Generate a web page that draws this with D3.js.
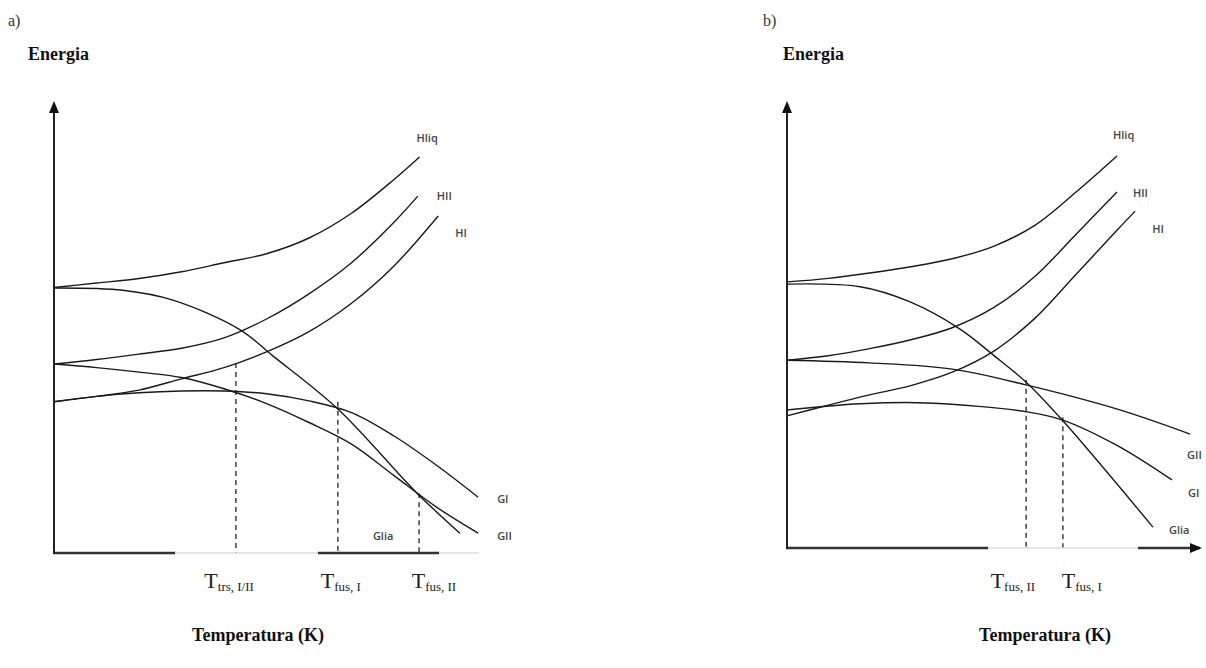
<!DOCTYPE html>
<html>
<head>
<meta charset="utf-8">
<script src="https://cdn.jsdelivr.net/npm/d3@7"></script>
<style>
  body { margin: 0; background: #fff; }
  svg { display: block; }
</style>
</head>
<body>
<script>
// Curve data, temperature (T) and energy (E) in arbitrary units 0-100

// panel a)
const aT_Hliq = [0, 10, 20, 30, 40, 50, 60, 70, 80, 86];
const aE_Hliq = [59, 60, 61, 62.5, 64.5, 66.5, 70, 75.5, 83, 88];
const aT_HII = [0, 10, 20, 30, 40, 50, 60, 70, 80, 85.6];
const aE_HII = [42, 43, 44.2, 45.5, 47.8, 52, 57.6, 64.5, 73.5, 79.3];
const aT_HI = [0, 10, 20, 30, 40, 50, 60, 70, 80, 90.4];
const aE_HI = [33.6, 34.8, 36.2, 38.7, 41.2, 44.7, 49.2, 55.5, 63.8, 74.9];
const aT_Glia = [0, 16.2, 28, 43.8, 51.5, 66.8, 85.4, 95.5];
const aE_Glia = [58.9, 58.4, 56.2, 49.6, 43.8, 32, 13.3, 4.4];
const aT_GI = [0, 10, 20, 30, 40, 50, 60, 70, 80, 90, 99.8];
const aE_GI = [33.6, 34.8, 35.6, 36, 36, 35.4, 33.8, 31.2, 26, 19.5, 12.4];
const aT_GII = [0, 10, 20, 30, 40, 50, 60, 70, 80, 90, 99.8];
const aE_GII = [42, 41.2, 40.2, 39, 36.5, 33.2, 29, 24.2, 17.2, 10.2, 4.4];

// dashed guide lines: temperature and top energy
const aGuideT = [42.8, 66.8, 85.9];
const aGuideE = [42.2, 33.6, 13.3];
const aTickT = [41.2, 67.5, 89.4];
const aTickMain = ['T', 'T', 'T'];
const aTickSub = ['trs, I/II', 'fus, I', 'fus, II'];

// panel b)
const bT_Hliq = [0, 10, 20, 30, 40, 50, 60, 70, 79.9];
const bE_Hliq = [59.8, 60.6, 61.8, 63.2, 65, 67.8, 72.5, 80, 88.1];
const bT_HII = [0, 10, 20, 30, 40, 50, 60, 70, 79.9];
const bE_HII = [42.2, 43.2, 44.8, 46.8, 49.5, 54, 61, 70.5, 80];
const bT_HI = [0, 10, 20, 30, 40, 50, 60, 70, 80, 84.3];
const bE_HI = [29.7, 32.1, 34.4, 36.5, 39.5, 44.2, 51.6, 61.5, 71.5, 75.7];
const bT_Glia = [0, 17.7, 29.8, 41.9, 49.9, 58.1, 66.6, 88.6];
const bE_Glia = [59.3, 58.7, 55.3, 49.2, 43.4, 37.1, 28.8, 4.7];
const bT_GII = [0, 20, 40, 58.1, 80, 97.6];
const bE_GII = [42.2, 41.6, 40.2, 36.6, 31.2, 25.6];
const bT_GI = [0, 17.7, 33.9, 58.1, 66.6, 80, 93.2];
const bE_GI = [31, 32.4, 32.6, 30.6, 28.8, 23, 15.3];

const bGuideT = [57.9, 66.8];
const bGuideE = [37.8, 29.4];
const bTickT = [54.7, 71.4];
const bTickMain = ['T', 'T'];
const bTickSub = ['fus, II', 'fus, I'];

// axis: T breakpoints where the line alternates dark/light
const aAxisBreaks = [0, 28.5, 62.1, 90.6, 100];
const bAxisBreaks = [0, 48.7, 85, 100];

const svg = d3.select('body').append('svg')
  .attr('width', 1206)
  .attr('height', 668);

const serif = '"Liberation Serif", "DejaVu Serif", serif';
const sans = '"Open Sans", "DejaVu Sans", sans-serif';

function zip(T, E) {
  return T.map((t, i) => [t, E[i]]);
}

function panel(cfg) {
  const x = d3.scaleLinear().domain([0, 100]).range(cfg.xRange);
  const y = d3.scaleLinear().domain([0, 100]).range(cfg.yRange);
  const g = svg.append('g');

  const line = d3.line()
    .x((d) => x(d[0]))
    .y((d) => y(d[1]))
    .curve(d3.curveCatmullRom.alpha(0.5));

  // dashed guides
  g.append('g')
    .selectAll('line')
    .data(cfg.guideT)
    .join('line')
    .attr('x1', (d) => x(d))
    .attr('x2', (d) => x(d))
    .attr('y1', (d, i) => y(cfg.guideE[i]))
    .attr('y2', y(0))
    .attr('stroke', '#333')
    .attr('stroke-width', 1.4)
    .attr('stroke-dasharray', '5,4');

  // curves
  g.append('g')
    .attr('fill', 'none')
    .attr('stroke', '#1a1a1a')
    .attr('stroke-width', 1.4)
    .selectAll('path')
    .data(cfg.curves)
    .join('path')
    .attr('d', (d) => line(d.pts));

  // curve labels next to the line ends
  g.append('g')
    .attr('font-family', sans)
    .attr('font-size', 11)
    .attr('font-weight', 600)
    .attr('fill', '#444')
    .selectAll('text')
    .data(cfg.curves)
    .join('text')
    .attr('x', (d) => x(d.pts[d.pts.length - 1][0]) + d.off[0])
    .attr('y', (d) => y(d.pts[d.pts.length - 1][1]) + d.off[1])
    .text((d) => d.name);

  // x axis segments
  const segs = d3.pairs(cfg.axisBreaks);
  g.append('g')
    .selectAll('line')
    .data(segs)
    .join('line')
    .attr('x1', (d) => x(d[0]) - (d[0] === 0 ? 1 : 0))
    .attr('x2', (d) => x(d[1]))
    .attr('y1', y(0))
    .attr('y2', y(0))
    .attr('stroke', (d, i) => (i % 2 === 0 ? '#333' : '#ddd'))
    .attr('stroke-width', (d, i) => (i % 2 === 0 ? 2.5 : 1.5));

  // y axis
  g.append('line')
    .attr('x1', x(0))
    .attr('x2', x(0))
    .attr('y1', y(0) + 1)
    .attr('y2', y(100) + 8)
    .attr('stroke', '#222')
    .attr('stroke-width', 2);
  g.append('path')
    .attr('d', `M${x(0) - 5},${y(100) + 10}L${x(0)},${y(100) - 2}L${x(0) + 5},${y(100) + 10}Z`)
    .attr('fill', '#111');

  if (cfg.xArrow) {
    g.append('path')
      .attr('d', `M${x(100) - 10},${y(0) - 5}L${x(100) + 2},${y(0)}L${x(100) - 10},${y(0) + 5}Z`)
      .attr('fill', '#111');
  }

  // tick labels
  const ticks = g.append('g')
    .attr('font-family', serif)
    .attr('fill', '#222')
    .selectAll('text')
    .data(cfg.tickT)
    .join('text')
    .attr('x', (d) => x(d))
    .attr('y', 588)
    .attr('text-anchor', 'middle');
  ticks.append('tspan')
    .attr('font-size', 22)
    .text((d, i) => cfg.tickMain[i]);
  ticks.append('tspan')
    .attr('font-size', 13)
    .attr('dy', 3)
    .text((d, i) => cfg.tickSub[i]);

  // titles
  g.append('text')
    .attr('x', cfg.letterX)
    .attr('y', 26)
    .attr('font-family', serif)
    .attr('font-size', 16)
    .attr('fill', '#333')
    .text(cfg.letter);
  g.append('text')
    .attr('x', cfg.letterX + 20)
    .attr('y', 60)
    .attr('font-family', serif)
    .attr('font-size', 18)
    .attr('font-weight', 'bold')
    .attr('fill', '#111')
    .text('Energia');
  g.append('text')
    .attr('x', cfg.titleX)
    .attr('y', 641)
    .attr('text-anchor', 'middle')
    .attr('font-family', serif)
    .attr('font-size', 18)
    .attr('font-weight', 'bold')
    .attr('fill', '#111')
    .text('Temperatura (K)');
}

panel({
  xRange: [54, 479],
  yRange: [553, 103],
  letter: 'a)',
  letterX: 8,
  titleX: 258,
  xArrow: false,
  axisBreaks: aAxisBreaks,
  guideT: aGuideT,
  guideE: aGuideE,
  tickT: aTickT,
  tickMain: aTickMain,
  tickSub: aTickSub,
  curves: [
    { name: 'Hliq', pts: zip(aT_Hliq, aE_Hliq), off: [-3, -15] },
    { name: 'HII', pts: zip(aT_HII, aE_HII), off: [19, 4] },
    { name: 'HI', pts: zip(aT_HI, aE_HI), off: [17, 21] },
    { name: 'Glia', pts: zip(aT_Glia, aE_Glia), off: [-87, 7] },
    { name: 'GI', pts: zip(aT_GI, aE_GI), off: [19, 6] },
    { name: 'GII', pts: zip(aT_GII, aE_GII), off: [19, 7] },
  ],
});

panel({
  xRange: [787, 1200],
  yRange: [548, 103],
  letter: 'b)',
  letterX: 763,
  titleX: 1045,
  xArrow: true,
  axisBreaks: bAxisBreaks,
  guideT: bGuideT,
  guideE: bGuideE,
  tickT: bTickT,
  tickMain: bTickMain,
  tickSub: bTickSub,
  curves: [
    { name: 'Hliq', pts: zip(bT_Hliq, bE_Hliq), off: [-4, -17] },
    { name: 'HII', pts: zip(bT_HII, bE_HII), off: [16, 5] },
    { name: 'HI', pts: zip(bT_HI, bE_HI), off: [17, 22] },
    { name: 'Glia', pts: zip(bT_Glia, bE_Glia), off: [16, 7] },
    { name: 'GII', pts: zip(bT_GII, bE_GII), off: [-3, 25] },
    { name: 'GI', pts: zip(bT_GI, bE_GI), off: [16, 17] },
  ],
});
</script>
</body>
</html>
